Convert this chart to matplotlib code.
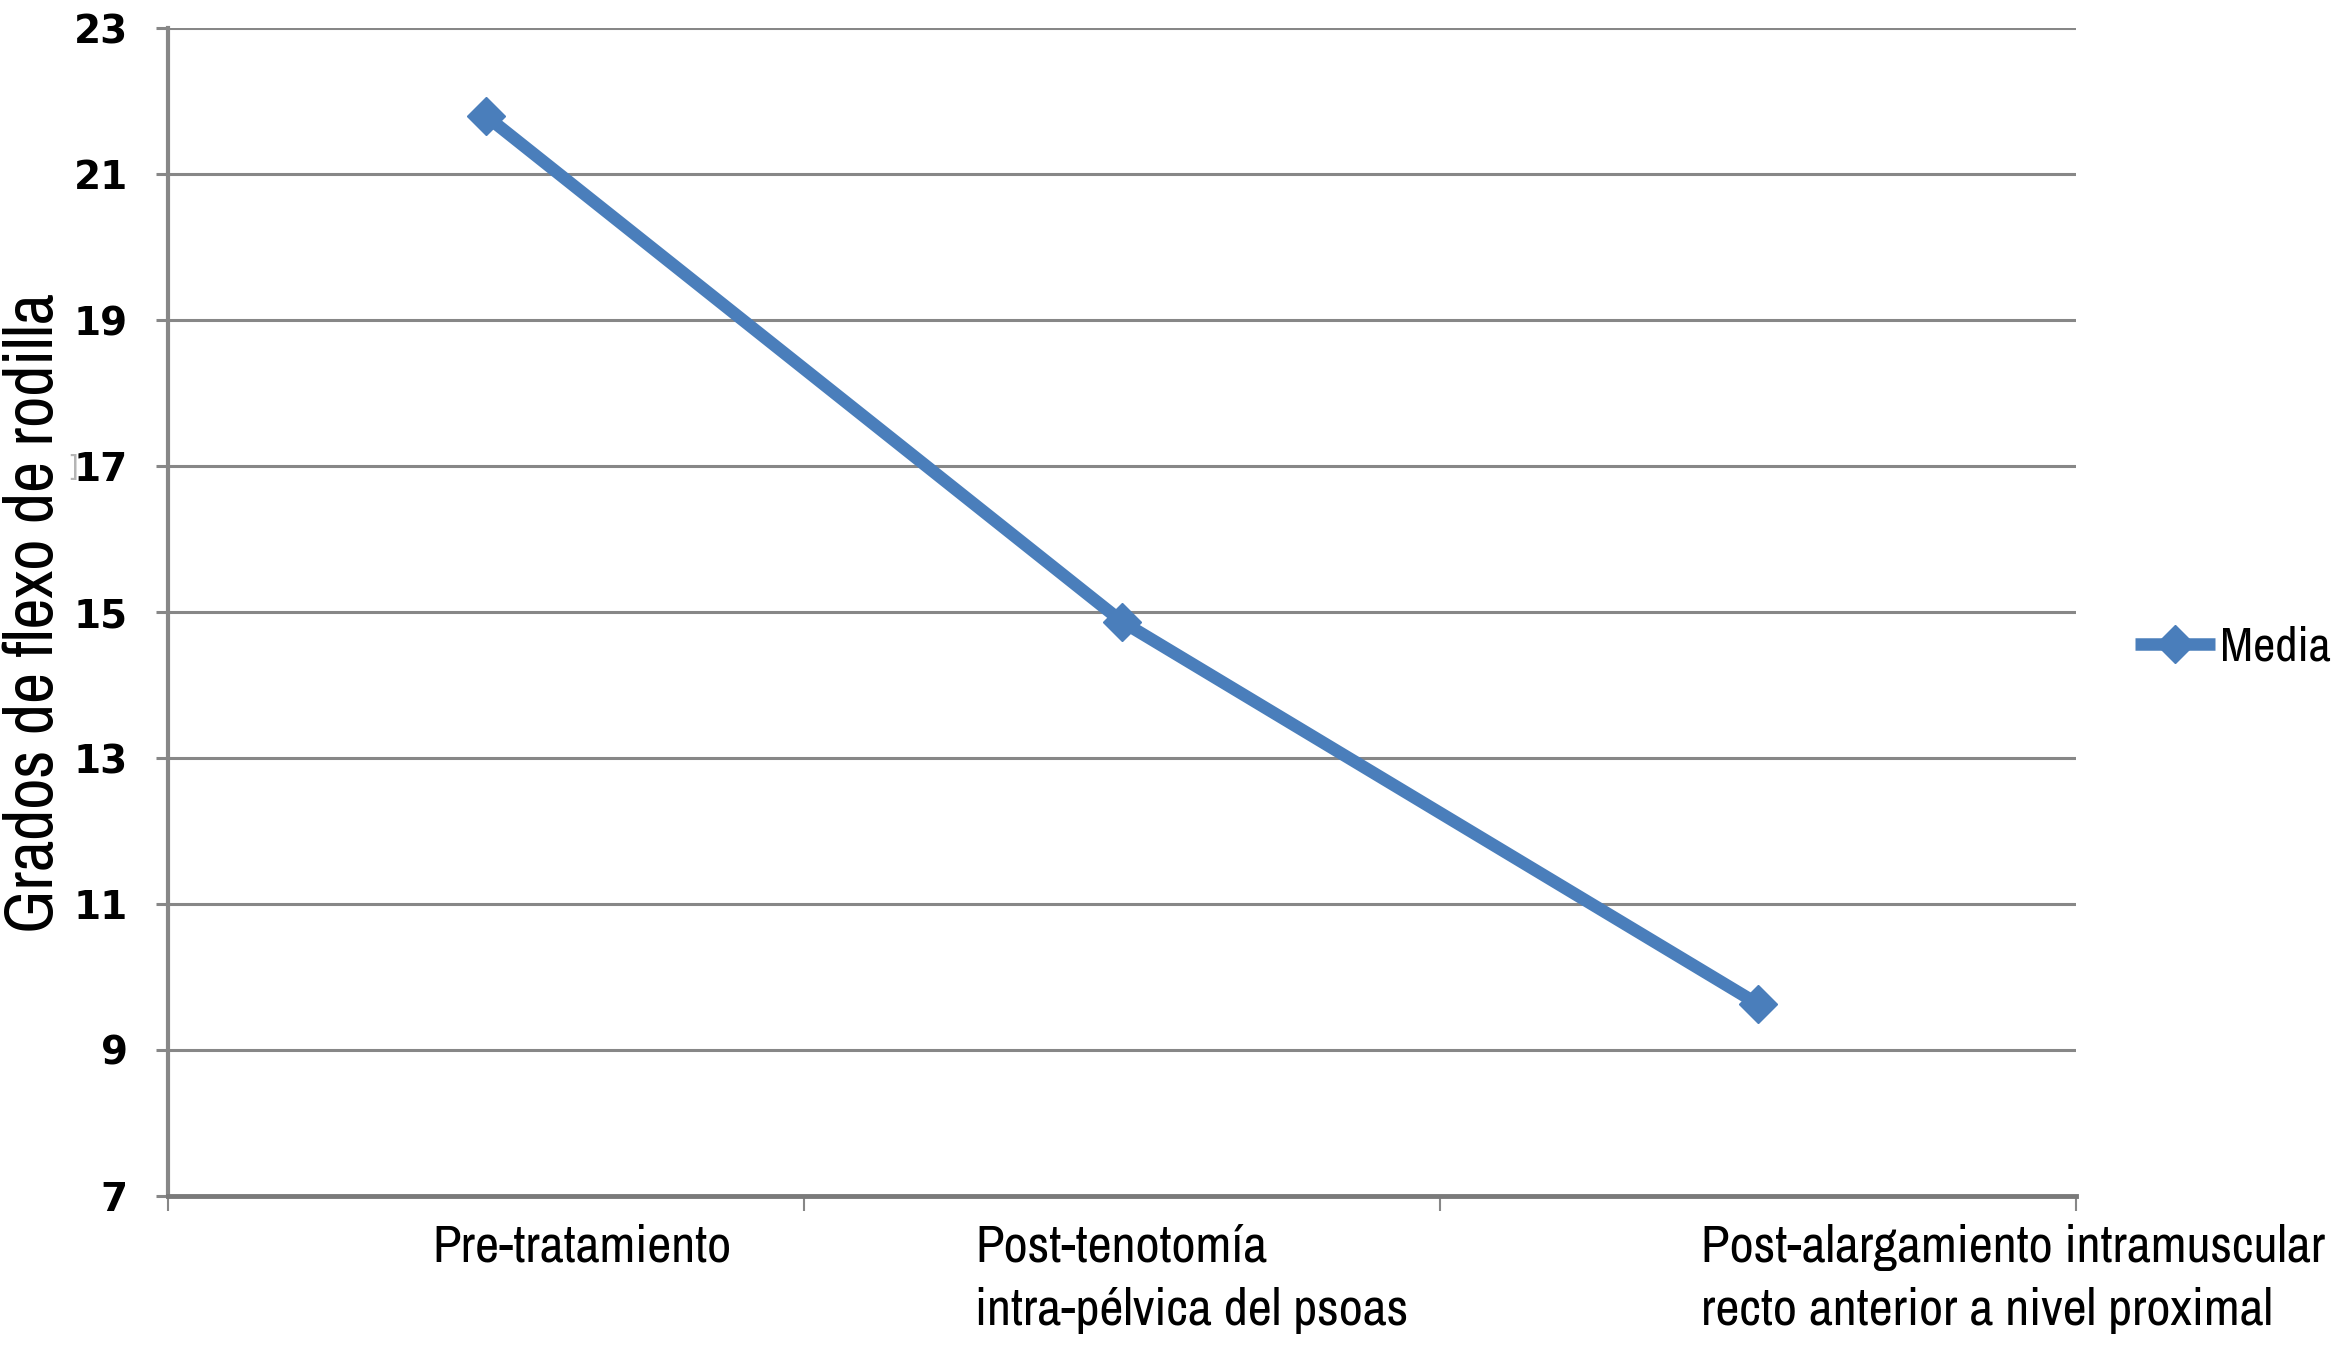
import numpy as np
import matplotlib.pyplot as plt
from matplotlib import font_manager
from matplotlib.transforms import blended_transform_factory


categorias = [
    "Pre-tratamiento",
    "Post-tenotomía\nintra-pélvica del psoas",
    "Post-alargamiento intramuscular\nrecto anterior a nivel proximal",
]
media = [21.8, 14.87, 9.63]
y_ticks = [7, 9, 11, 13, 15, 17, 19, 21, 23]
serie = "Media"
ylabel = "Grados de flexo de rodilla"


# look for a condensed face (the original uses a narrow Calibri-like font)
narrow = None
for f in font_manager.fontManager.ttflist:
    if "Narrow" in f.name or "Condensed" in f.name:
        narrow = f.name
        break
if narrow is None:
    for f in font_manager.fontManager.ttflist:
        if str(f.stretch) in ("condensed", "semi-condensed", "extra-condensed"):
            narrow = f.name
            break
txt_font = narrow if narrow else "Liberation Sans"
txt_size = 37.8 if narrow else 31
leg_size = 35 if narrow else 29
ylab_size = 49 if narrow else 42

blue = "#4a7ebb"
grey = "#878787"

fig = plt.figure(figsize=(23.33, 13.48), dpi=100)
ax = fig.add_axes([0.072, 0.1128, 0.8178, 0.8662])

x = np.arange(len(media)) + 0.5
ax.plot(x, media, color=blue, lw=9, marker="D", markersize=19,
        solid_capstyle="butt", label=serie, zorder=3)

ax.set_xlim(0, 3)
ax.set_ylim(7, 23)
ax.set_yticks(y_ticks)
ax.set_yticklabels([str(v) for v in y_ticks], fontweight="bold",
                   fontsize=28, family="DejaVu Sans")
ax.set_xticks([0, 1, 2, 3])
ax.set_xticklabels([])
ax.grid(axis="y", color=grey, lw=2.2)
ax.set_axisbelow(True)

for s in ["top", "right"]:
    ax.spines[s].set_visible(False)
ax.spines["left"].set_color(grey)
ax.spines["left"].set_linewidth(3)
ax.spines["bottom"].set_color("#7a7a7a")
ax.spines["bottom"].set_linewidth(3.5)
ax.tick_params(axis="y", length=9, width=2.2, color=grey, pad=20)
ax.tick_params(axis="x", length=11, width=1.5, color=grey)

# category labels, placed like the original (left aligned, shifted)
tr = blended_transform_factory(ax.transData, ax.transAxes)
label_x = [0.415, 1.269, 2.41]
for lx, lab in zip(label_x, categorias):
    ax.text(lx, -0.024, lab, transform=tr, ha="left", va="top",
            fontsize=txt_size, family=txt_font, linespacing=1.42)

fig.text(0.0145, 0.545, ylabel, rotation=90, ha="center", va="center",
         fontsize=ylab_size, family=txt_font if narrow else "Open Sans")
fig.text(0.031, 0.653, "]", color="#b5b5b5", fontsize=20,
         ha="center", va="center")

ax.legend(loc="center left", bbox_to_anchor=(0.915, 0.52),
          bbox_transform=fig.transFigure, frameon=False, borderpad=0,
          borderaxespad=0, handlelength=1.65, handletextpad=0.1,
          prop={"family": txt_font, "size": leg_size})

fig.savefig("out.png", dpi=100)
